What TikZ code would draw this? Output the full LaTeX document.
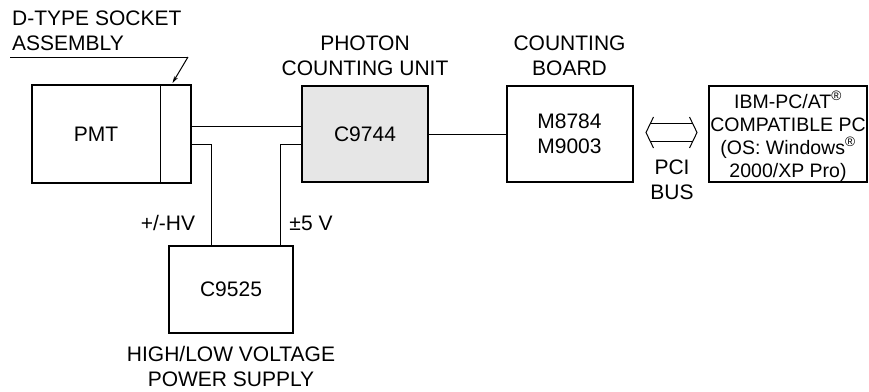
\documentclass[tikz,border=0pt]{standalone}
\usepackage{fontspec}
\setsansfont{Liberation Sans}
\usetikzlibrary{arrows.meta, positioning, calc}
\definecolor{cgrey}{HTML}{E6E6E6}
\tikzset{
  every picture/.style={font=\sffamily\fontsize{21pt}{25pt}\selectfont, x=1pt, y=-1pt},
  box/.style={draw, line width=2pt, fill=#1, align=center, inner sep=0pt, minimum width=126pt, minimum height=96pt},
  box/.default=white,
  wire/.style={line width=1pt},
  title/.style={align=center, inner sep=0pt},
  small/.style={font=\sffamily\fontsize{19.5pt}{23pt}\selectfont},
}

\begin{document}
\begin{tikzpicture}
  \useasboundingbox (0,0) rectangle (869,391);
  % main chain
  \node[box, draw=none, fill=none] (pmt) at (96,134) {PMT};
  \node[box, draw=none, fill=none, minimum width=29pt, right=0pt of pmt] (sock) {};
  \draw[line width=2pt] (pmt.north west) rectangle (sock.south east);
  \draw[wire] (sock.north west) -- (sock.south west);
  \node[box=cgrey] (pcu) at (365,134) {C9744};
  \node[box] (brd) at (569.5,134) {M8784\\M9003};
  \node[box, minimum width=158pt] (pc) at (788,134) {};
  \node[title, small] (pctxt) at (788,136) {IBM-PC/AT\textsuperscript{\textregistered}\\COMPATIBLE PC\\(OS: Windows\textsuperscript{\textregistered}\\ 2000/XP Pro)};
  \node[box, minimum width=124pt, minimum height=87pt] (psu) at (231,289.5) {C9525};

  % titles
  \node[title, above=9pt of pcu] (pcutxt) {PHOTON\\COUNTING UNIT};
  \node[title, above=9pt of brd] (brdtxt) {COUNTING\\BOARD};
  \node[title, below=12pt of psu] (psutxt) {HIGH/LOW VOLTAGE\\POWER SUPPLY};
  \node[title, align=left, anchor=south west] (socktxt) at (12,51) {D-TYPE SOCKET\\ASSEMBLY};
  \node[title] (bus) at (672,180) {PCI\\BUS};

  % wiring
  \coordinate (lead) at (188,57);
  \draw[wire] (10,57) -- (lead);
  \draw[wire, -{Stealth[length=7pt, width=4pt]}] (lead) -- ($(sock.north)+(-3,-2)$);
  \draw[wire] ($(sock.east)+(0,-8)$) -- ($(pcu.west)+(0,-8)$);
  \draw[wire] ($(sock.east)+(0,10)$) -| ($(psu.north west)+(43,0)$);
  \draw[wire] ($(pcu.west)+(0,10)$) -| ($(psu.north east)+(-14,0)$);
  \draw[wire] (pcu) -- (brd);
  \node[title] (hv) at (168,223) {+/-HV};
  \node[title] (lv) at (311,223) {±5 V};

  % pci bus arrow
  \coordinate (arr) at (671.5,132.5);
  \draw[wire] ($(arr)+(-18,-15.5)$) -- ($(arr)+(-25.5,0)$) -- ($(arr)+(-18,15.5)$);
  \draw[wire] ($(arr)+(18,-15.5)$) -- ($(arr)+(25.5,0)$) -- ($(arr)+(18,15.5)$);
  \draw[wire] ($(arr)+(-21.2,-9)$) -- ($(arr)+(21.2,-9)$);
  \draw[wire] ($(arr)+(-21.2,9)$) -- ($(arr)+(21.2,9)$);
\end{tikzpicture}
\end{document}
